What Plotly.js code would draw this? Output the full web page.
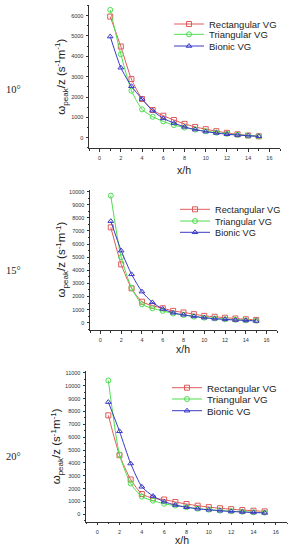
<!DOCTYPE html>
<html>
<head>
<meta charset="utf-8">
<script src="https://cdn.plot.ly/plotly-3.0.1.min.js"></script>
<style>html,body{margin:0;padding:0;background:#fff;}#chart{width:290px;height:550px;}</style>
</head>
<body>
<div id="chart"></div>
<script>
// ---- data ----
const xh = [1,2,3,4,5,6,7,8,9,10,11,12,13,14,15];
const seriesNames = ['Rectangular VG','Triangular VG','Bionic VG'];
const panelLabels = ['10°','15°','20°'];

const rect10 = [5950,4480,2880,1900,1360,1080,870,680,530,420,320,240,170,110,70];
const tri10  = [6280,4100,2310,1390,1030,800,620,500,400,320,250,190,140,100,60];
const bio10  = [4970,3440,2530,1900,1330,950,720,530,400,300,230,170,130,100,70];

const rect15 = [7280,4450,2620,1600,1300,1100,900,780,650,520,450,380,320,260,210];
const tri15  = [9700,5000,2650,1400,1100,900,700,580,460,380,320,260,220,180,150];
const bio15  = [7750,5500,3690,2370,1550,1050,750,600,480,380,300,250,200,170,130];

const rect20 = [7700,4600,2710,1580,1250,1150,960,800,670,560,470,400,330,280,230];
const tri20  = [10410,4650,2400,1370,1060,820,680,560,440,360,290,240,200,160,130];
const bio20  = [8730,6460,3950,2140,1420,980,720,550,430,350,280,220,180,140,110];

const panels = [[rect10,tri10,bio10],[rect15,tri15,bio15],[rect20,tri20,bio20]];

// ---- styles ----
const colors = ['#e05a5a','#4ede4e','#3a3ac6'];
const symbols = ['square-open','circle-open','triangle-up-open'];
const W = 290, H = 550;
// pixel geometry per panel: [xLeft, xRight, yTop, yBottom]
const geom = [[89,280,5,148.3],[90,277,190,330],[86,287,371,521.7]];
const yRanges = [[-520,6520],[-560,10130],[-575,11150]];
const xRange = [-1,17];
const legendRows = [[24,34.3,46],[209.3,221,232.3],[387.7,399,410.7]];
const legendTextX = [187,193,185];
const legendFont = [9.5,9.2,9.8];
const yTitleX = [61,61.5,57];
const xTitle = [[184,170],[183,349],[182,540]];
const degPos = [[13,90],[13.7,270],[13.3,456]];

const traces = [];
const layout = {
  width: W, height: H,
  margin: {l:0,r:0,t:0,b:0},
  paper_bgcolor: '#ffffff', plot_bgcolor: '#ffffff',
  font: {family: 'Liberation Sans, Arial, sans-serif', color: '#222'},
  showlegend: true,
  legend: {visible: false},
  annotations: [],
};

panels.forEach((sers, p) => {
  const sfx = p === 0 ? '' : String(p+1);
  const g = geom[p];
  const xa = 'xaxis' + sfx, ya = 'yaxis' + sfx;
  const axStyle = {
    showline: true, linecolor: '#333', linewidth: 1,
    ticks: 'outside', ticklen: 2.5, tickwidth: 1, tickcolor: '#333',
    showgrid: false, zeroline: false,
    tickfont: {size: 5.5, color: '#333', family: 'Liberation Sans, Arial, sans-serif'},
    tickformat: 'd',
  };
  layout[xa] = Object.assign({}, axStyle, {
    domain: [g[0]/W, g[1]/W], anchor: 'y' + sfx,
    range: xRange, tickmode: 'linear', tick0: 0, dtick: 2,
    minor: {ticks: 'outside', ticklen: 1.5, dtick: 1, tick0: 0, tickcolor: '#333'},
    ticklabelstandoff: 2,
  });
  layout[ya] = Object.assign({}, axStyle, {
    domain: [1 - g[3]/H, 1 - g[2]/H], anchor: 'x' + sfx,
    range: yRanges[p], tickmode: 'linear', tick0: 0, dtick: 1000,
    minor: {ticks: 'outside', ticklen: 1.5, dtick: 500, tick0: 0, tickcolor: '#333'},
    ticklabelstandoff: 1,
  });
  sers.forEach((vals, s) => {
    const lg = 'legend' + String(p*3 + s + 2);
    traces.push({
      type: 'scatter', mode: 'lines+markers',
      x: xh, y: vals, name: seriesNames[s],
      xaxis: 'x' + sfx, yaxis: 'y' + sfx,
      legend: lg,
      line: {color: colors[s], width: 1, shape: 'spline', smoothing: 0.6},
      marker: {symbol: symbols[s], size: 5, color: colors[s], line: {width: 1, color: colors[s]}},
    });
    layout[lg] = {
      x: (legendTextX[p] - 18)/W, xanchor: 'left',
      y: 1 - legendRows[p][s]/H, yanchor: 'middle',
      bgcolor: 'rgba(0,0,0,0)', borderwidth: 0,
      font: {size: legendFont[p], color: '#222', family: 'Liberation Sans, Arial, sans-serif'},
      itemwidth: 30, tracegroupgap: 0,
    };
  });
  layout.annotations.push({
    xref: 'paper', yref: 'paper', x: yTitleX[p]/W, y: 1 - ((g[2]+g[3])/2)/H,
    xanchor: 'center', yanchor: 'middle', textangle: -90, showarrow: false,
    text: 'ω<sub>peak</sub>/z (s<sup>-1</sup>m<sup>-1</sup>)',
    font: {size: 11.5, color: '#222', family: 'Liberation Sans, Arial, sans-serif'},
  });
  layout.annotations.push({
    xref: 'paper', yref: 'paper', x: xTitle[p][0]/W, y: 1 - xTitle[p][1]/H,
    xanchor: 'center', yanchor: 'middle', showarrow: false,
    text: 'x/h',
    font: {size: 10.5, color: '#222', family: 'Liberation Sans, Arial, sans-serif'},
  });
  layout.annotations.push({
    xref: 'paper', yref: 'paper', x: degPos[p][0]/W, y: 1 - degPos[p][1]/H,
    xanchor: 'center', yanchor: 'middle', showarrow: false,
    text: panelLabels[p],
    font: {size: 10.5, color: '#222', family: 'Liberation Serif, Times New Roman, serif'},
  });
});

Plotly.newPlot('chart', traces, layout, {displayModeBar: false, staticPlot: true});
</script>
</body>
</html>
